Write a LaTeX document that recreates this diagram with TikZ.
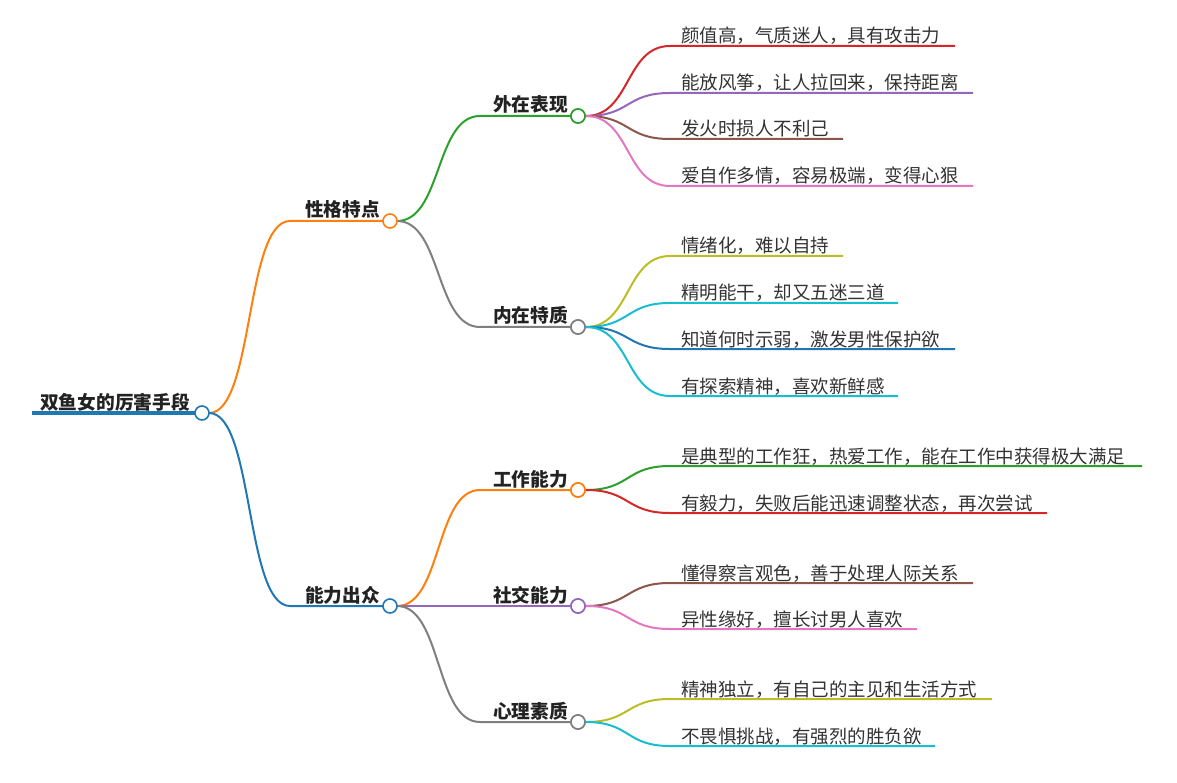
\documentclass[tikz,border=0pt]{standalone}
\usepackage{fontspec}
\setmainfont{Noto Sans CJK SC}
\definecolor{cred}{HTML}{D62728}
\definecolor{cpurple}{HTML}{9467BD}
\definecolor{cbrown}{HTML}{8C564B}
\definecolor{cpink}{HTML}{E377C2}
\definecolor{colive}{HTML}{BCBD22}
\definecolor{ccyan}{HTML}{17BECF}
\definecolor{cblue}{HTML}{1F77B4}
\definecolor{cgreen}{HTML}{2CA02C}
\definecolor{corange}{HTML}{FF7F0E}
\definecolor{cgray}{HTML}{7F7F7F}
\definecolor{ctext}{HTML}{333333}
\definecolor{cbold}{HTML}{222222}
\newcommand{\leafnode}[6]{% parent, name, y, endx, color, text
  \coordinate (#2s) at (670,#3);
  \coordinate (#2e) at (#4,#3);
  \node[leaftext] (#2) at (681,#3-3) {#6};
  \draw[conn,#5] (#1.east) .. controls +(45,0) and +(-45,0) .. (#2s) -- (#2e);
}
\begin{document}
\begin{tikzpicture}[x=1pt,y=-1pt,
  conn/.style={line width=2pt},
  dot/.style={circle,draw,fill=white,line width=1.6pt,minimum size=14pt,inner sep=0pt},
  leaftext/.style={anchor=base west,inner sep=0pt,font=\fontsize{18.5}{20}\selectfont,text=ctext},
  boldtext/.style={anchor=base west,inner sep=0pt,font=\fontsize{18.7}{20}\selectfont\bfseries,text=cbold}]
\useasboundingbox (0,0) rectangle (1177,783);
% root
\coordinate (rs) at (32,413);
\node[boldtext] (rt) at (40,409) {双鱼女的厉害手段};
% level 1
\coordinate (as) at (290,221);
\node[boldtext] (at) at (305,217) {性格特点};
\coordinate (bs) at (290,606);
\node[boldtext] (bt) at (305,602) {能力出众};
% level 2
\coordinate (a1s) at (480,116);
\node[boldtext] (a1t) at (493,112) {外在表现};
\coordinate (a2s) at (480,327);
\node[boldtext] (a2t) at (493,323) {内在特质};
\coordinate (b1s) at (480,490);
\node[boldtext] (b1t) at (493,486) {工作能力};
\node[boldtext] (b2t) at (493,602) {社交能力};
\coordinate (b3s) at (480,722);
\node[boldtext] (b3t) at (493,718) {心理素质};
% circle positions
\coordinate (Rp) at (202,413);
\coordinate (Ap) at (390,221);
\coordinate (Bp) at (390,606);
\coordinate (A1p) at (578,116);
\coordinate (A2p) at (578,327);
\coordinate (B1p) at (578,490);
\coordinate (B2p) at (578,606);
\coordinate (B3p) at (578,722);
% lines
\draw[cblue,line width=4pt] (rs) -- (Rp);
\draw[conn,corange] (Rp) ++(7,0) .. controls +(45,0) and +(-45,0) .. (as) -- (Ap);
\draw[conn,cblue] (Rp) ++(7,0) .. controls +(45,0) and +(-45,0) .. (bs) -- (Bp);
\draw[conn,cgreen] (Ap) ++(7,0) .. controls +(45,0) and +(-45,0) .. (a1s) -- (A1p);
\draw[conn,cgray] (Ap) ++(7,0) .. controls +(45,0) and +(-45,0) .. (a2s) -- (A2p);
\draw[conn,corange] (Bp) ++(7,0) .. controls +(45,0) and +(-45,0) .. (b1s) -- (B1p);
\draw[conn,cpurple] (Bp) -- (B2p);
\draw[conn,cgray] (Bp) ++(7,0) .. controls +(45,0) and +(-45,0) .. (b3s) -- (B3p);
% circles
\node[dot,draw=cblue] (R) at (Rp) {};
\node[dot,draw=corange] (A) at (Ap) {};
\node[dot,draw=cblue] (B) at (Bp) {};
\node[dot,draw=cgreen] (A1) at (A1p) {};
\node[dot,draw=cgray] (A2) at (A2p) {};
\node[dot,draw=corange] (B1) at (B1p) {};
\node[dot,draw=cpurple] (B2) at (B2p) {};
\node[dot,draw=cgray] (B3) at (B3p) {};
% leaves
\leafnode{A1}{la}{46}{955}{cred}{颜值高，气质迷人，具有攻击力}
\leafnode{A1}{lb}{93}{973}{cpurple}{能放风筝，让人拉回来，保持距离}
\leafnode{A1}{lc}{139}{843}{cbrown}{发火时损人不利己}
\leafnode{A1}{ld}{186}{973}{cpink}{爱自作多情，容易极端，变得心狠}
\leafnode{A2}{le}{256}{843}{colive}{情绪化，难以自持}
\leafnode{A2}{lf}{303}{898}{ccyan}{精明能干，却又五迷三道}
\leafnode{A2}{lg}{349}{955}{cblue}{知道何时示弱，激发男性保护欲}
\leafnode{A2}{lh}{396}{898}{ccyan}{有探索精神，喜欢新鲜感}
\leafnode{B1}{li}{466}{1142}{cgreen}{是典型的工作狂，热爱工作，能在工作中获得极大满足}
\leafnode{B1}{lj}{513}{1047}{cred}{有毅力，失败后能迅速调整状态，再次尝试}
\leafnode{B2}{lk}{583}{973}{cbrown}{懂得察言观色，善于处理人际关系}
\leafnode{B2}{ll}{629}{917}{cpink}{异性缘好，擅长讨男人喜欢}
\leafnode{B3}{lm}{699}{992}{colive}{精神独立，有自己的主见和生活方式}
\leafnode{B3}{ln}{746}{935}{ccyan}{不畏惧挑战，有强烈的胜负欲}
% redraw circles on top
\node[dot,draw=cgreen] at (A1p) {};
\node[dot,draw=cgray] at (A2p) {};
\node[dot,draw=corange] at (B1p) {};
\node[dot,draw=cpurple] at (B2p) {};
\node[dot,draw=cgray] at (B3p) {};
\end{tikzpicture}
\end{document}
